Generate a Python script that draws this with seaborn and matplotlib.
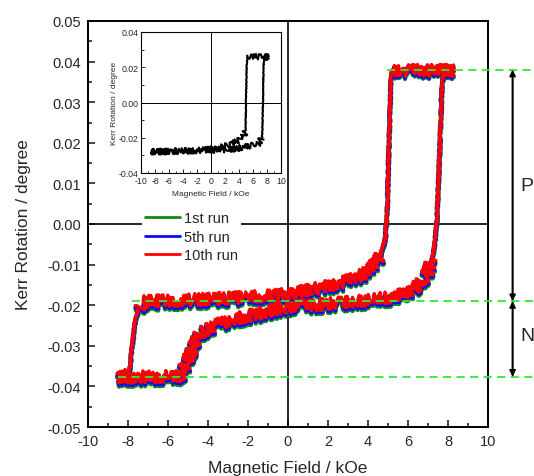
import numpy as np
import pandas as pd
import matplotlib
matplotlib.use("Agg")
import matplotlib.pyplot as plt
import seaborn as sns
from matplotlib.lines import Line2D
from matplotlib.ticker import MultipleLocator, FormatStrFormatter

# ---------------- data ----------------
runs = ["1st run", "5th run", "10th run"]
run_colors = ["#138a13", "#0a0aff", "#ff0000"]
run_offsets = [-0.0009, -0.0005, 0.0]

desc_H = [8.3, 7.0, 6.0, 5.2, 5.15, 5.05, 4.95, 4.85, 4.6, 4.1, 3.3, 2.1, 0.1,
          -2.0, -4.0, -6.0, -7.2, -7.5, -7.65, -7.8, -7.9, -8.0, -8.5]
desc_K = [0.038, 0.038, 0.038, 0.038, 0.036, 0.020, 0.002, -0.0037, -0.0078,
          -0.0115, -0.0135, -0.0152, -0.0172, -0.018, -0.0185, -0.0189, -0.019,
          -0.021, -0.024, -0.030, -0.035, -0.037, -0.038]
asc_H = [-8.5, -7.0, -5.4, -5.07, -4.73, -4.4, -3.7, -2.7, -1.6, -0.2, 2.9, 5.1,
         6.3, 6.9, 7.2, 7.35, 7.45, 7.6, 7.7, 7.8, 8.3]
asc_K = [-0.0378, -0.0376, -0.0375, -0.034, -0.030, -0.027, -0.025, -0.0234,
         -0.0222, -0.0205, -0.0193, -0.018, -0.016, -0.0127, -0.0086, -0.0037,
         0.002, 0.020, 0.035, 0.038, 0.038]

inset_desc_H = [8.3, 5.2, 5.1, 5.0, 4.93, 4.6, 4.2, 2.8, 0.9, -1.0, -4.0, -8.6]
inset_desc_K = [0.026, 0.026, 0.020, 0.0, -0.0165, -0.019, -0.0212, -0.024,
                -0.026, -0.027, -0.0275, -0.028]
inset_asc_H = [-8.6, -4.0, 0.0, 3.0, 5.0, 6.6, 7.0, 7.3, 7.42, 7.5, 7.6, 8.3]
inset_asc_K = [-0.028, -0.0275, -0.027, -0.0265, -0.025, -0.024, -0.022,
               -0.0203, 0.0, 0.020, 0.026, 0.026]

level_y = [0.038, -0.019, -0.0376]
level_start = [4.95, -7.8, -8.5]

xticks = list(range(-10, 11, 2))
yticks = [-0.05, -0.04, -0.03, -0.02, -0.01, 0.0, 0.01, 0.02, 0.03, 0.04, 0.05]
inset_yticks = [-0.04, -0.02, 0.0, 0.02, 0.04]

# ---------------- style ----------------
sns.set_style("ticks")
plt.rcParams["font.family"] = ["Liberation Sans", "DejaVu Sans"]
plt.rcParams["axes.unicode_minus"] = False


def draw_branch(axis, hx, ky, color, lw, noisy_scale, clean_scale, thr, length):
    """Draw a branch; gentle parts get a noisy (sketch) rendering, steep jumps a clean one."""
    hx = np.asarray(hx, float)
    ky = np.asarray(ky, float)
    steep = np.abs(np.diff(ky) / np.diff(hx)) > thr
    start = 0
    for i in range(1, len(steep) + 1):
        if i == len(steep) or steep[i] != steep[start]:
            seg = slice(start, i + 1)
            n0 = len(axis.lines)
            sns.lineplot(x=hx[seg], y=ky[seg], sort=False, estimator=None,
                         color=color, lw=lw, ax=axis, zorder=3)
            sc = clean_scale if steep[start] else noisy_scale
            for ln in axis.lines[n0:]:
                ln.set_sketch_params(scale=sc, length=length, randomness=4)
                ln.set_solid_capstyle("butt")
            start = i


W, H = 534, 477
fig = plt.figure(figsize=(W / 100, H / 100), dpi=100)
ax = fig.add_axes([88 / W, 1 - 428 / H, 400 / W, 406 / H])

ax.axhline(0, color="k", lw=1.2, zorder=1)
ax.axvline(0, color="k", lw=1.2, zorder=1)

widths = [3.2, 2.8, 2.4]
for run, col, off, lw in zip(runs, run_colors, run_offsets, widths):
    for hx, ky in [(desc_H, desc_K), (asc_H, asc_K)]:
        draw_branch(ax, hx, [k + off for k in ky], col, lw, 6.0, 0.8, 0.015, 0.8)

for yv, xs in zip(level_y, level_start):
    ax.plot([xs, 12.3], [yv, yv], ls=(0, (4.5, 3)), color="#33e833", lw=1.3,
            clip_on=False, zorder=4)

arrow_x = 11.23
for y0, y1 in [(level_y[0], level_y[1]), (level_y[1], level_y[2])]:
    for a, b in [(y0, y1), (y1, y0)]:
        ax.annotate("", xy=(arrow_x, a), xytext=(arrow_x, b),
                    arrowprops=dict(arrowstyle="-|>", color="k", lw=1.2,
                                    mutation_scale=9, shrinkA=0, shrinkB=0),
                    annotation_clip=False)
ax.text(11.95, 0.0095, "P", fontsize=14, ha="center", va="center")
ax.text(11.95, -0.0275, "N", fontsize=14, ha="center", va="center")

ax.set_xlim(-10, 10)
ax.set_ylim(-0.05, 0.05)
ax.set_xticks(xticks)
ax.set_yticks(yticks)
ax.yaxis.set_major_formatter(FormatStrFormatter("%.2f"))
ax.xaxis.set_minor_locator(MultipleLocator(1))
ax.yaxis.set_minor_locator(MultipleLocator(0.005))
ax.tick_params(which="both", direction="in", top=False, right=False,
               width=1.2, labelsize=10.5, pad=5)
ax.tick_params(which="major", length=5)
ax.tick_params(which="minor", length=3)
for s in ax.spines.values():
    s.set_linewidth(1.4)
    s.set_color("k")
ax.set_xlabel("Magnetic Field / kOe", fontsize=12.5, labelpad=8.5)
ax.set_ylabel("Kerr Rotation / degree", fontsize=12.5, labelpad=12)

handles = [Line2D([], [], color=c, lw=2) for c in run_colors]
leg = ax.legend(handles, runs, loc="upper left", bbox_to_anchor=(0.135, 0.538),
                borderaxespad=0, fontsize=10.5, handlelength=2.4,
                handletextpad=0.3, labelspacing=0.3, borderpad=0.2,
                frameon=True, facecolor="white", edgecolor="none",
                framealpha=1, fancybox=False)

# ---------------- inset ----------------
axin = fig.add_axes([141 / W, 1 - 174 / H, 140 / W, 141 / H])
axin.set_facecolor("white")
axin.axhline(0, color="k", lw=0.7, zorder=1)
axin.axvline(0, color="k", lw=0.7, zorder=1)
for hx, ky in [(inset_desc_H, inset_desc_K), (inset_asc_H, inset_asc_K)]:
    draw_branch(axin, hx, ky, "k", 1.5, 3.0, 0.3, 0.015, 0.8)
axin.set_xlim(-10, 10)
axin.set_ylim(-0.04, 0.04)
axin.set_xticks(xticks)
axin.set_yticks(inset_yticks)
axin.yaxis.set_major_formatter(FormatStrFormatter("%.2f"))
axin.xaxis.set_minor_locator(MultipleLocator(1))
axin.yaxis.set_minor_locator(MultipleLocator(0.01))
axin.tick_params(which="both", direction="in", top=False, right=False,
                 width=0.7, labelsize=6.3)
axin.tick_params(axis="x", pad=2.5)
axin.tick_params(axis="y", pad=1.5)
axin.tick_params(which="major", length=3)
axin.tick_params(which="minor", length=1.8)
for s in axin.spines.values():
    s.set_linewidth(0.8)
    s.set_color("k")
axin.set_xlabel("Magnetic Field / kOe", fontsize=6, labelpad=3)
axin.set_ylabel("Kerr Rotation / degree", fontsize=6, labelpad=1)

fig.savefig("out.png", dpi=100)
